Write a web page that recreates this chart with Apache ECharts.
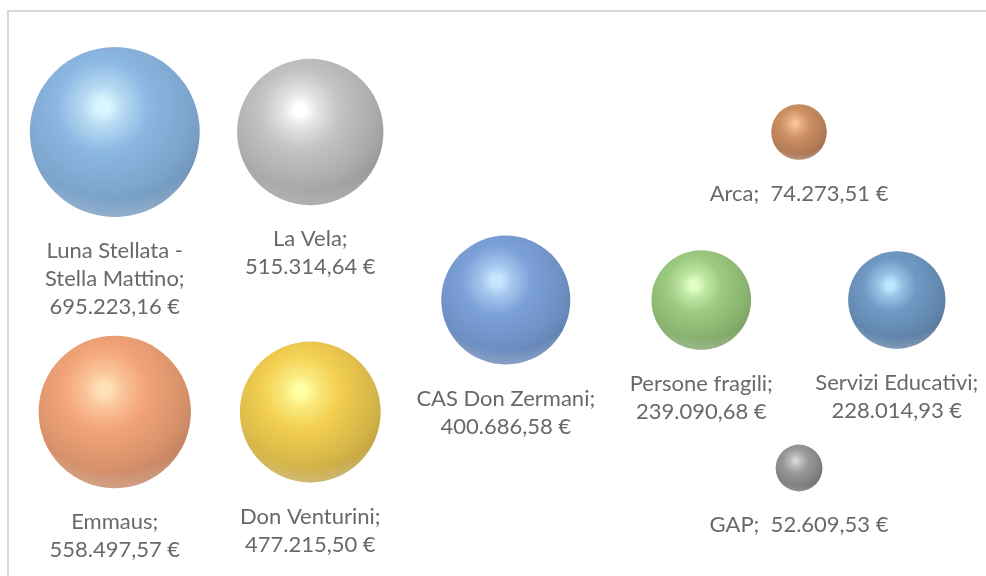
<!DOCTYPE html>
<html>
<head>
<meta charset="utf-8">
<script src="https://cdn.jsdelivr.net/npm/echarts@6/dist/echarts.min.js"></script>
<style>
html,body{margin:0;padding:0;background:#fff;}
#chart{width:986px;height:576px;}
</style>
</head>
<body>
<div id="chart"></div>
<script>
// ---- data ----
const names = ["Luna Stellata -\nStella Mattino", "La Vela", "Arca", "CAS Don Zermani", "Persone fragili", "Servizi Educativi", "Emmaus", "Don Venturini", "GAP"];
const xValues = [1, 2, 4.5, 3, 4, 5, 1, 2, 4.5];
const yValues = [7, 7, 7, 4, 4, 4, 2, 2, 1];
const amounts = [695223.16, 515314.64, 74273.51, 400686.58, 239090.68, 228014.93, 558497.57, 477215.50, 52609.53];
const singleLine = [false, false, true, false, false, false, false, false, true];

// ---- styles ----
const palette = [
  ["#d0f4ff", "#6fa5dc", "#46739f"],
  ["#ffffff", "#b4b4b4", "#747474"],
  ["#f4b67c", "#bf733a", "#7e4520"],
  ["#b8e0ff", "#5b88cf", "#365b95"],
  ["#d8ffb8", "#84bf5f", "#527f36"],
  ["#acdeff", "#4b80b6", "#2a527d"],
  ["#ffd8a4", "#f08d55", "#a85c34"],
  ["#ffff8c", "#f0c324", "#a68212"],
  ["#cccccc", "#7e7e7e", "#434343"]
];

function fmt(v) {
  const parts = v.toFixed(2).split(".");
  const intPart = parts[0].replace(/\B(?=(\d{3})+(?!\d))/g, ".");
  return intPart + "," + parts[1] + " €";
}

const maxAmount = Math.max.apply(null, amounts);
const maxDiameter = 170;

const sphereData = names.map((n, i) => {
  const [hl, base, edge] = palette[i];
  const mid = echarts.color.lerp(0.5, [base, edge]);
  const nearHl = echarts.color.lerp(0.45, [hl, base]);
  return {
    name: n,
    value: [xValues[i], yValues[i], amounts[i]],
    itemStyle: {
      color: {
        type: "radial", x: 0.43, y: 0.35, r: 0.8,
        colorStops: [
          { offset: 0, color: hl },
          { offset: 0.05, color: hl },
          { offset: 0.15, color: nearHl },
          { offset: 0.34, color: base },
          { offset: 0.66, color: mid },
          { offset: 0.88, color: edge },
          { offset: 1, color: edge }
        ]
      }
    }
  };
});

const rimData = names.map((n, i) => ({ name: n, value: [xValues[i], yValues[i], amounts[i]] }));

const sizeFn = (val) => maxDiameter * Math.sqrt(val[2] / maxAmount);

const chart = echarts.init(document.getElementById("chart"), null, { renderer: "canvas" });
chart.setOption({
  backgroundColor: "#ffffff",
  animation: false,
  grid: { left: 17, right: 11, top: 76, bottom: 52 },
  xAxis: { type: "value", min: 0.5, max: 5.4, show: false },
  yAxis: { type: "value", min: 0, max: 8, show: false },
  graphic: [
    { type: "line", shape: { x1: 7, y1: 11, x2: 986, y2: 11 }, style: { stroke: "#d9d9d9", lineWidth: 2 } },
    { type: "line", shape: { x1: 8, y1: 10, x2: 8, y2: 576 }, style: { stroke: "#d9d9d9", lineWidth: 2 } }
  ],
  series: [
    {
      type: "scatter",
      symbol: "circle",
      symbolSize: sizeFn,
      data: sphereData,
      label: {
        show: true,
        position: "bottom",
        distance: 20,
        fontFamily: "Lato",
        fontSize: 22,
        lineHeight: 28,
        color: "#424242",
        align: "center",
        formatter: (p) => {
          const i = p.dataIndex;
          return names[i] + ";" + (singleLine[i] ? "  " : "\n") + fmt(amounts[i]);
        }
      },
      z: 2
    },
    {
      type: "scatter",
      symbol: "circle",
      symbolSize: sizeFn,
      data: rimData,
      silent: true,
      itemStyle: {
        color: {
          type: "radial", x: 0.5, y: 0.2, r: 0.82,
          colorStops: [
            { offset: 0, color: "rgba(255,255,255,0)" },
            { offset: 0.84, color: "rgba(255,255,255,0)" },
            { offset: 0.96, color: "rgba(255,255,255,0.28)" },
            { offset: 1, color: "rgba(255,255,255,0.15)" }
          ]
        }
      },
      z: 3
    }
  ]
});
</script>
</body>
</html>
